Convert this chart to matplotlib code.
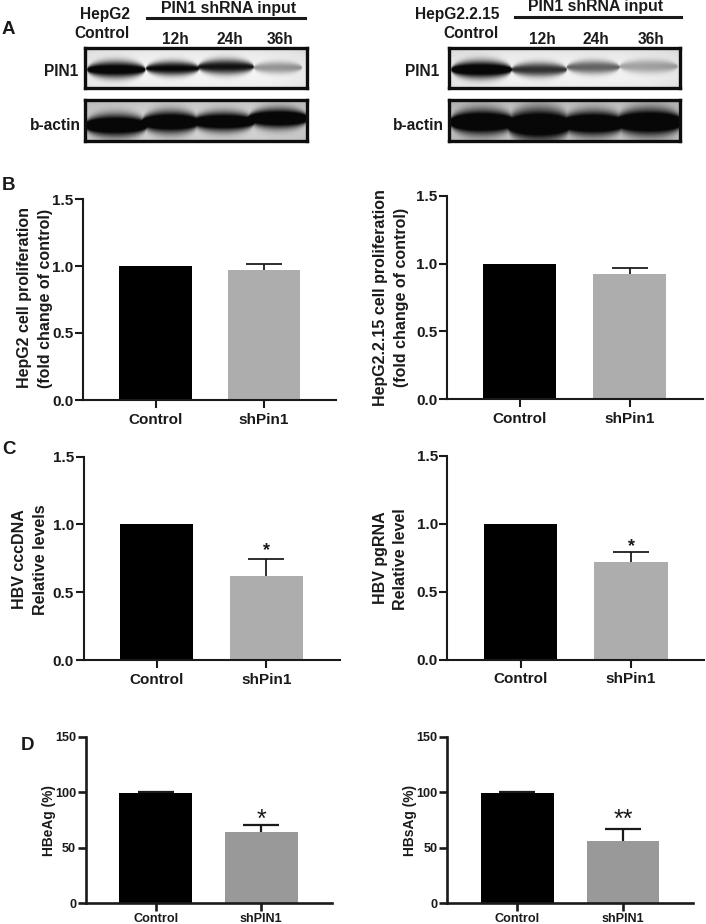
import numpy as np
import matplotlib
matplotlib.use("Agg")
import matplotlib.pyplot as plt

plt.rcParams['font.family'] = ['Liberation Sans', 'DejaVu Sans']
plt.rcParams['font.weight'] = 'bold'

W, H = 706, 924
DARK = '#1a1a1a'

# ---------- data ----------
categories_pin = ['Control', 'shPin1']
categories_pin_upper = ['Control', 'shPIN1']

hepg2_prolif = [1.0, 0.97]
hepg2_prolif_err = [0.0, 0.045]
hepg215_prolif = [1.0, 0.92]
hepg215_prolif_err = [0.0, 0.047]
cccdna = [1.0, 0.62]
cccdna_err = [0.0, 0.125]
pgrna = [1.0, 0.72]
pgrna_err = [0.0, 0.07]
hbeag = [99.5, 64.0]
hbeag_err = [1.0, 6.5]
hbsag = [99.0, 56.0]
hbsag_err = [1.3, 10.5]

ticks_fold = [0.0, 0.5, 1.0, 1.5]
ticks_pct = [0, 50, 100, 150]
tick_labels_fold = ['0.0', '0.5', '1.0', '1.5']
tick_labels_pct = ['0', '50', '100', '150']

lanes = ['12h', '24h', '36h']

# band strength per lane (0-1) read from the blots
left_pin1 = [0.95, 0.85, 0.80, 0.32]
left_actin = [1.0, 1.0, 0.97, 1.0]
right_pin1 = [1.0, 0.68, 0.50, 0.27]
right_actin = [1.0, 1.0, 1.0, 1.0]

# ---------- helpers ----------
fig = plt.figure(figsize=(W / 100, H / 100), dpi=100, facecolor='white')


def txt(x, y, s, size=11, ha='center', rotation=0, color=DARK, weight='bold'):
    fig.text(x / W, 1 - y / H, s, fontsize=size, ha=ha, va='center',
             rotation=rotation, rotation_mode='anchor' if rotation else 'default',
             color=color, fontweight=weight)


def rect_axes(x0, y0, x1, y1):
    return fig.add_axes([x0 / W, 1 - y1 / H, (x1 - x0) / W, (y1 - y0) / H])


def bar_panel(x0, xend, ytop, ybot, c1, c2, bw, vals, errs, ymax, ticks, tlabels,
              cats, color, size, lw, pad):
    ax = rect_axes(x0, ytop, xend, ybot)
    spacing = c2 - c1
    ax.set_xlim((x0 - c1) / spacing, (xend - c1) / spacing)
    ax.set_ylim(0, ymax)
    xs = [0, 1]
    ax.bar(xs, vals, width=bw / spacing, color=['black', color], zorder=2)
    for x, v, e in zip(xs, vals, errs):
        if e > 0:
            cont = ax.errorbar(x, v, yerr=[[0], [e]], color=DARK, lw=lw * 0.85,
                               capsize=13, capthick=lw * 0.85, zorder=1)
            cont[1][0].set_visible(False)
    for s in ('top', 'right'):
        ax.spines[s].set_visible(False)
    for s in ('left', 'bottom'):
        ax.spines[s].set_linewidth(lw)
        ax.spines[s].set_color(DARK)
    ax.set_xticks(xs)
    ax.set_xticklabels(cats, fontsize=size, fontweight='bold', color=DARK)
    ax.set_yticks(ticks)
    ax.set_yticklabels(tlabels, fontsize=size, fontweight='bold', color=DARK)
    ax.tick_params(axis='both', width=lw, length=5.5, color=DARK)
    ax.tick_params(axis='x', pad=pad)
    ax.tick_params(axis='y', pad=1.5)
    ax.patch.set_alpha(0)
    return ax


def blot(x0, y0, x1, y1, strengths, centres, ys, halfw, halfh, bg):
    ax = rect_axes(x0, y0, x1, y1)
    xx, yy = np.meshgrid(np.linspace(0, 1, 400), np.linspace(0, 1, 100))
    # soft vignette on the film background
    img = bg - 0.10 * ((2 * xx - 1) ** 4 + (2 * yy - 1) ** 4) / 2 + 0.04 * yy
    absorb = np.zeros_like(img)
    for s, c, yc, hw, hh in zip(strengths, centres, ys, halfw, halfh):
        # lens-shaped band: thickest mid-lane, tapering toward its ends
        t = np.clip(1 - ((xx - c) / (hw * 1.15)) ** 2, 0.001, 1) ** 0.45
        prof = np.exp(-np.abs((yy - yc) / (hh * t)) ** 2.2) * (t > 0.05)
        absorb = np.maximum(absorb, s * prof * 1.1)
    img = np.clip(img - absorb, 0.03, 1)
    ax.imshow(img, cmap='gray', vmin=0, vmax=1, extent=(0, 1, 1, 0), aspect='auto',
              interpolation='bilinear')
    ax.set_xticks([])
    ax.set_yticks([])
    for s in ax.spines.values():
        s.set_linewidth(2.4)
        s.set_color('#0d0d0d')


# ---------- panel A ----------
blot(85, 48, 307, 88, left_pin1,
     [0.14, 0.395, 0.635, 0.87], [0.54, 0.51, 0.47, 0.49],
     [0.115, 0.105, 0.11, 0.095], [0.21, 0.18, 0.19, 0.15], 0.93)
blot(85, 100, 307, 141, left_actin,
     [0.14, 0.385, 0.625, 0.87], [0.62, 0.54, 0.53, 0.45],
     [0.125, 0.115, 0.125, 0.12], [0.27, 0.27, 0.24, 0.24], 0.80)
blot(449, 48, 680, 88, right_pin1,
     [0.14, 0.39, 0.625, 0.865], [0.54, 0.54, 0.48, 0.46],
     [0.115, 0.105, 0.10, 0.11], [0.22, 0.18, 0.17, 0.17], 0.92)
blot(449, 100, 680, 141, right_actin,
     [0.145, 0.39, 0.625, 0.865], [0.54, 0.6, 0.57, 0.54],
     [0.125, 0.125, 0.125, 0.13], [0.3, 0.38, 0.3, 0.32], 0.76)

txt(130, 14, 'HepG2', 11.2, ha='right')
txt(130, 33, 'Control', 11.2, ha='right')
txt(229, 8, 'PIN1 shRNA input', 11.4)
txt(175, 40, lanes[0], 11.2)
txt(230, 40, lanes[1], 11.2)
txt(280, 40, lanes[2], 11.2)
txt(78, 72, 'PIN1', 11.2, ha='right')
txt(81, 125, 'b-actin', 11.2, ha='right')

txt(499, 14, 'HepG2.2.15', 11.2, ha='right')
txt(499, 33, 'Control', 11.2, ha='right')
txt(596, 7, 'PIN1 shRNA input', 11.4)
txt(542, 39, lanes[0], 11.2)
txt(596, 39, lanes[1], 11.2)
txt(651, 39, lanes[2], 11.2)
txt(439, 72, 'PIN1', 11.2, ha='right')
txt(444, 125, 'b-actin', 11.2, ha='right')

for xa, xb, yy in ((147, 305, 18), (515, 681, 17)):
    fig.add_artist(plt.Line2D([xa / W, xb / W], [1 - yy / H] * 2, color=DARK, lw=2.2))

for s, x, y in (('A', 2, 30), ('B', 2, 185), ('C', 2, 450), ('D', 21, 745)):
    txt(x, y, s, 13.5, ha='left')

# ---------- panels B, C, D ----------
GREY_BC = '#adadad'
GREY_D = '#999999'
bar_panel(83, 336, 199, 400, 155.6, 263.8, 72.3, hepg2_prolif, hepg2_prolif_err, 1.5,
          ticks_fold, tick_labels_fold, categories_pin, GREY_BC, 11, 1.5, 3.5)
bar_panel(447, 703, 195.5, 399.5, 519.7, 629.5, 72.8, hepg215_prolif, hepg215_prolif_err, 1.5,
          ticks_fold, tick_labels_fold, categories_pin, GREY_BC, 11, 1.5, 3.5)
bar_panel(83.5, 340, 456.5, 660, 156.7, 266.4, 72.7, cccdna, cccdna_err, 1.5,
          ticks_fold, tick_labels_fold, categories_pin, GREY_BC, 11, 1.5, 3.5)
bar_panel(447.5, 704.5, 456, 659.7, 520.7, 631, 73.3, pgrna, pgrna_err, 1.5,
          ticks_fold, tick_labels_fold, categories_pin, GREY_BC, 11, 1.5, 3.5)
bar_panel(86, 331.5, 736.7, 903.3, 155.6, 261.3, 72.6, hbeag, hbeag_err, 150,
          ticks_pct, tick_labels_pct, categories_pin_upper, GREY_D, 9.1, 1.9, 1.2)
bar_panel(447.5, 693.5, 736.7, 903.3, 517.3, 623, 72.6, hbsag, hbsag_err, 150,
          ticks_pct, tick_labels_pct, categories_pin_upper, GREY_D, 9.1, 1.9, 1.2)

# y labels
txt(24.5, 298, 'HepG2 cell proliferation', 11.5, rotation=90)
txt(45.5, 298, '(fold change of control)', 11.5, rotation=90)
txt(380.5, 298, 'HepG2.2.15 cell proliferation', 11.5, rotation=90)
txt(402, 297, '(fold change of control)', 11.5, rotation=90)
txt(19.5, 559, 'HBV cccDNA', 11.5, rotation=90)
txt(40.5, 560, 'Relative levels', 11.5, rotation=90)
txt(380.5, 558, 'HBV pgRNA', 11.5, rotation=90)
txt(400.5, 559, 'Relative level', 11.5, rotation=90)
txt(49, 821, 'HBeAg (%)', 9.9, rotation=90)
txt(410, 821, 'HBsAg (%)', 9.9, rotation=90)

# significance marks
txt(266.7, 551, '*', 13)
txt(631, 547, '*', 13)
txt(261.5, 820, '*', 18, weight='normal')
txt(623, 820, '**', 18, weight='normal')

fig.savefig('out.png', dpi=100)
